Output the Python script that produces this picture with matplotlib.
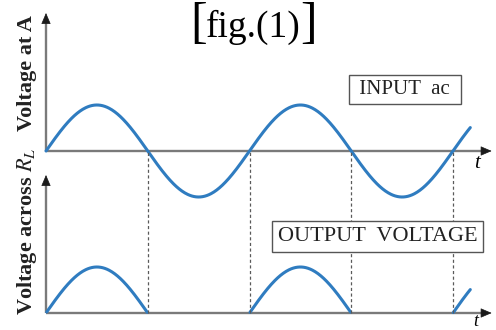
import numpy as np
import matplotlib
matplotlib.use("Agg")
import matplotlib.pyplot as plt

# time in half-periods of the input ac, voltage in units of the peak
crossings = [1, 2, 3, 4]          # zero crossings shown with dashed lines
t_end = 4.17                      # where the traced waves stop
amplitude = 1.0
t_axis_end = 4.38                 # tip of the time axes
v_axis_end = 3.0                  # tip of the voltage axes

title_text = "fig.(1)"
top_label = "Voltage at A"
bottom_label = r"Voltage across $R_L$"
input_text = "INPUT  ac"
output_text = "OUTPUT  VOLTAGE"

W, H = 496, 330
blue = "#2f7cc0"
grey = "#7a7a7a"
dark = "#1a1a1a"
serif = ["Liberation Serif", "DejaVu Serif"]
plt.rcParams["mathtext.fontset"] = "stix"

t = np.linspace(0, t_end, 600)
v_in = amplitude * np.sin(np.pi * t)
v_out = np.where(v_in > 0, v_in, np.nan)

fig = plt.figure(figsize=(W / 100, H / 100), dpi=100)
xlim = (-46 / 101.75, 450 / 101.75)

ax1 = fig.add_axes([0, (H - 215) / H, 1, 215 / H])
ax1.set_xlim(*xlim)
ax1.set_ylim((151 - 215) / 46, 151 / 46)

ax2 = fig.add_axes([0, 0, 1, 170 / H])
ax2.set_xlim(*xlim)
ax2.set_ylim((313 - 330) / 46, (313 - 160) / 46)

for ax in (ax1, ax2):
    ax.axis("off")
    ax.patch.set_alpha(0)
    ax.plot([0, t_axis_end - 0.05], [0, 0], color=grey, lw=1.7, solid_capstyle="butt")
    ax.plot([0, 0], [0, v_axis_end - 0.15], color=grey, lw=1.7, solid_capstyle="butt")
    ax.annotate("", xy=(t_axis_end, 0), xytext=(t_axis_end - 0.1, 0),
                arrowprops=dict(arrowstyle="-|>,head_length=0.7,head_width=0.3",
                                color=dark, lw=0.5, shrinkA=0, shrinkB=0))
    ax.annotate("", xy=(0, v_axis_end), xytext=(0, v_axis_end - 0.2),
                arrowprops=dict(arrowstyle="-|>,head_length=0.7,head_width=0.3",
                                color=dark, lw=0.5, shrinkA=0, shrinkB=0))

ax1.plot(t, v_in, color=blue, lw=2.2, solid_capstyle="round")
ax2.plot(t, v_out, color=blue, lw=2.2, solid_capstyle="round")

# dashed guides from the top time axis down to the bottom one
ax2.vlines(crossings, 0, (313 - 151) / 46, colors="#5a5a5a", linestyles=(0, (2.5, 2)),
           lw=0.9, clip_on=False)

# title
fig.text(199 / W, 1 - 25 / H, "[", family=serif, fontsize=36, ha="center", va="center")
fig.text(253 / W, 1 - 37 / H, title_text, family=serif, fontsize=27, ha="center", va="baseline")
fig.text(309 / W, 1 - 25 / H, "]", family=serif, fontsize=36, ha="center", va="center")

# axis labels
fig.text(27 / W, 1 - 73 / H, top_label, family=serif, fontsize=16, weight="bold",
         rotation=90, ha="center", va="center", color="#222222")
fig.text(27 / W, 1 - 231 / H, bottom_label, family=serif, fontsize=16, weight="bold",
         rotation=90, ha="center", va="center", color="#222222")
fig.text(477 / W, 1 - 163 / H, "t", family=serif, style="italic", fontsize=15,
         ha="center", va="center")
fig.text(476 / W, 1 - 321 / H, "t", family=serif, style="italic", fontsize=13,
         ha="center", va="center")

box = dict(boxstyle="square,pad=0.25", fc="white", ec="#555555", lw=1.0)
fig.text(405 / W, 1 - 89.5 / H, " " + input_text + " ", family=serif, fontsize=15,
         ha="center", va="center", bbox=box, color="#222222")
fig.text(377.5 / W, 1 - 236.5 / H, output_text, family=serif, fontsize=16,
         ha="center", va="center", bbox=box, color="#222222")

fig.savefig("out.png", dpi=100)
